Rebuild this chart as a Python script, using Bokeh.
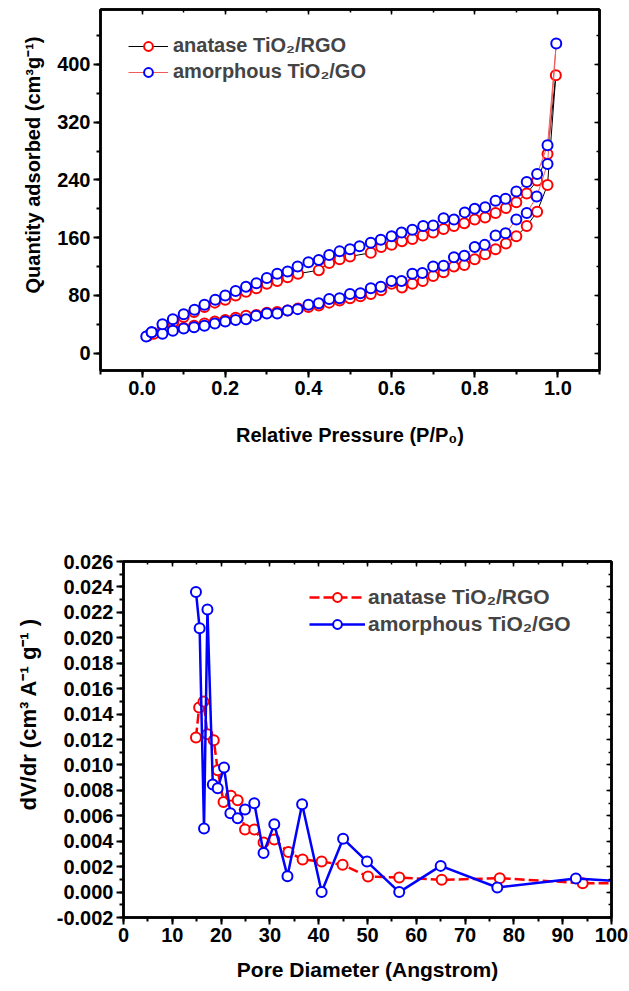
from bokeh.plotting import figure
from bokeh.models import (LinearAxis, SingleIntervalTicker, PrintfTickFormatter,
                          Range1d, Legend, LegendItem, Title)
from bokeh.embed import file_html
from bokeh.resources import INLINE

FONT = "Liberation Sans"

# ---------------- Top chart: N2 isotherms ----------------
# anatase TiO2/RGO (red markers, black line)
ana_ads_p = [0.014, 0.028, 0.05, 0.075, 0.1, 0.125, 0.15, 0.175, 0.2, 0.225, 0.25, 0.275,
             0.3, 0.325, 0.35, 0.375, 0.4, 0.425, 0.45, 0.475, 0.5, 0.525, 0.55, 0.575,
             0.6, 0.625, 0.65, 0.675, 0.7, 0.725, 0.75, 0.775, 0.8, 0.825, 0.85, 0.875,
             0.9, 0.925, 0.95, 0.975, 0.995]
ana_ads_q = [24, 28, 30, 33, 35, 38, 41, 44, 46, 49, 52, 53,
             56, 57, 59, 62, 64, 66, 70, 73, 76, 79, 82, 87,
             96, 91, 96, 100, 107, 112, 120, 122, 130, 137, 144, 152,
             162, 176, 196, 233, 385]
ana_des_p = [0.975, 0.95, 0.925, 0.9, 0.875, 0.85, 0.825, 0.8, 0.775, 0.75, 0.725, 0.7,
             0.675, 0.65, 0.625, 0.6, 0.575, 0.55, 0.5, 0.475, 0.45, 0.425,
             0.375, 0.35, 0.325, 0.3, 0.275, 0.25, 0.225, 0.2, 0.175, 0.15, 0.125, 0.1,
             0.075, 0.05, 0.028]
ana_des_q = [276, 239, 221, 209, 201, 194, 188, 185, 180, 176, 172, 167,
             163, 158, 155, 150, 147, 139, 134, 130, 125, 115,
             110, 105, 100, 96, 90, 85, 80, 74, 70, 64, 57, 50,
             43, 34, 27]
# amorphous TiO2/GO (blue markers, red line)
amo_ads_p = [0.01, 0.023, 0.049, 0.074, 0.1, 0.125, 0.15, 0.175, 0.2, 0.225, 0.25, 0.274,
             0.3, 0.325, 0.35, 0.374, 0.4, 0.425, 0.45, 0.475, 0.5, 0.525, 0.55, 0.574,
             0.6, 0.624, 0.65, 0.674, 0.7, 0.725, 0.75, 0.775, 0.8, 0.824, 0.85, 0.874,
             0.9, 0.925, 0.949, 0.975, 0.996]
amo_ads_q = [23, 29, 27, 31, 34, 36, 38, 41, 44, 46, 47, 52,
             55, 55, 59, 61, 67, 69, 75, 76, 82, 83, 90, 92,
             100, 100, 110, 111, 120, 121, 133, 135, 147, 150, 163, 166,
             185, 194, 217, 262, 429]
amo_des_p = [0.975, 0.95, 0.925, 0.9, 0.874, 0.85, 0.825, 0.8, 0.776, 0.75, 0.725, 0.7,
             0.676, 0.65, 0.624, 0.6, 0.574, 0.55, 0.523, 0.5, 0.475, 0.45, 0.425, 0.4,
             0.374, 0.35, 0.325, 0.3, 0.275, 0.25, 0.225, 0.2, 0.176, 0.15, 0.126, 0.1,
             0.074, 0.049, 0.023]
amo_des_q = [288, 248, 237, 224, 214, 211, 202, 200, 195, 185, 187, 177,
             176, 171, 167, 162, 157, 153, 148, 144, 141, 136, 129, 126,
             120, 113, 110, 104, 97, 92, 86, 80, 74, 67, 60, 54,
             47, 40, 29]

# ---------------- Bottom chart: pore size distribution ----------------
ana_d = [14.85, 15.5, 16.4, 17.2, 18.5, 19.3, 20.5, 22.0, 23.4, 24.9, 26.8, 28.7, 30.9,
         33.8, 36.7, 40.6, 44.9, 50.1, 56.5, 65.2, 77.1, 94.1, 112]
ana_v = [0.01215, 0.01451, 0.01498, 0.01242, 0.01195, 0.00959, 0.00709, 0.00757, 0.00723,
         0.00492, 0.00492, 0.00389, 0.00413, 0.00316, 0.00256, 0.0024, 0.00214, 0.00122,
         0.00114, 0.00096, 0.00109, 0.0007, 0.00066]
amo_d = [14.85, 15.6, 16.5, 17.2, 18.3, 19.3, 20.6, 21.9, 23.4, 24.9, 26.8, 28.7, 30.9,
         33.6, 36.6, 40.6, 45.0, 49.9, 56.5, 65.0, 76.6, 92.7, 112]
amo_v = [0.02361, 0.02075, 0.0050, 0.02222, 0.00846, 0.00817, 0.00979, 0.0062, 0.00581,
         0.00649, 0.00699, 0.00308, 0.00534, 0.00125, 0.00691, 0.0, 0.0042, 0.0024,
         0.0, 0.00206, 0.00036, 0.00107, 0.0006]

label_ana = "anatase TiO\u2082/RGO"
label_amo = "amorphous TiO\u2082/GO"


def style_main_axes(p, xticker, yticker, xfmt, yfmt, tick_font):
    xa = p.below[0]
    ya = p.left[0]
    xa.ticker = xticker
    ya.ticker = yticker
    xa.formatter = PrintfTickFormatter(format=xfmt)
    ya.formatter = PrintfTickFormatter(format=yfmt)
    for ax in (xa, ya):
        ax.axis_line_width = 2.5
        ax.axis_line_color = "black"
        ax.major_tick_line_width = 2
        ax.minor_tick_line_width = 2
        ax.major_tick_out = 7
        ax.major_tick_in = 0
        ax.minor_tick_out = 4
        ax.minor_tick_in = 0
        ax.major_label_text_font = FONT
        ax.major_label_text_font_style = "bold"
        ax.major_label_text_font_size = tick_font
        ax.major_label_text_color = "black"
        ax.major_label_standoff = 3
        ax.axis_label_text_font = FONT
        ax.axis_label_text_font_style = "bold"
        ax.axis_label_text_color = "black"
    for side, tk in (("above", xticker), ("right", yticker)):
        ax = LinearAxis(ticker=tk, axis_label=None, major_label_text_font_size="0px",
                        major_label_standoff=0, axis_label_standoff=0,
                        major_tick_in=5, major_tick_out=0, minor_tick_in=3, minor_tick_out=0,
                        axis_line_width=2.5, major_tick_line_width=1.5,
                        minor_tick_line_width=1.5, formatter=PrintfTickFormatter(format=" "))
        p.add_layout(ax, side)
    p.xgrid.visible = False
    p.ygrid.visible = False
    p.outline_line_color = "black"
    p.outline_line_width = 2.5
    return xa, ya


# ---------- figure 1 ----------
p1 = figure(width=629, height=470, x_range=Range1d(-0.1, 1.1), y_range=Range1d(-24, 476),
            output_backend="svg", toolbar_location=None,
            min_border_left=100, min_border_right=30, min_border_top=9, min_border_bottom=100)
xa1, ya1 = style_main_axes(p1, SingleIntervalTicker(interval=0.2, num_minor_ticks=2),
                           SingleIntervalTicker(interval=80, num_minor_ticks=2), "%.1f", "%d",
                           "20px")
xa1.axis_label = "Relative Pressure (P/P\u2080)"
xa1.axis_label_text_font_size = "20px"
xa1.axis_label_standoff = 26
p1.add_layout(Title(text="Quantity adsorbed (cm\u00b3g\u207b\u00b9)", align="left", offset=77,
                    vertical_align="bottom", standoff=22, text_font=FONT,
                    text_font_style="bold", text_font_size="20px", text_color="black"), "left")

r1l = p1.line(ana_ads_p + ana_des_p, ana_ads_q + ana_des_q, line_color="black", line_width=1)
r1m = p1.scatter(ana_ads_p + ana_des_p, ana_ads_q + ana_des_q, marker="circle", size=10,
                 line_color="#ff0000", line_width=2, fill_color="white")
r2l = p1.line(amo_ads_p + amo_des_p, amo_ads_q + amo_des_q, line_color="#f05a5a", line_width=1)
r2m = p1.scatter(amo_ads_p + amo_des_p, amo_ads_q + amo_des_q, marker="circle", size=10,
                 line_color="#0000ff", line_width=2, fill_color="white")
leg1 = Legend(items=[LegendItem(label=label_ana, renderers=[r1l, r1m]),
                     LegendItem(label=label_amo, renderers=[r2l, r2m])],
              location=(28, 287), border_line_color=None, background_fill_alpha=0,
              padding=0, margin=0, spacing=3, glyph_width=40, glyph_height=22,
              label_height=22, label_standoff=5, label_text_font=FONT,
              label_text_font_style="bold", label_text_font_size="20px")
p1.add_layout(leg1, "center")

# ---------- figure 2 ----------
p2 = figure(width=629, height=520, x_range=Range1d(0, 100), y_range=Range1d(-0.002, 0.026001),
            output_backend="svg", toolbar_location=None,
            min_border_left=122, min_border_right=18, min_border_top=91, min_border_bottom=73)
xa2, ya2 = style_main_axes(p2, SingleIntervalTicker(interval=10, num_minor_ticks=2),
                           SingleIntervalTicker(interval=0.002, num_minor_ticks=2), "%d", "%.3f",
                           "20px")
xa2.axis_label = "Pore Diameter (Angstrom)"
xa2.axis_label_text_font_size = "21px"
xa2.axis_label_standoff = 13
p2.add_layout(Title(text="dV/dr (cm\u00b3 A\u207b\u00b9 g\u207b\u00b9 )", align="left", offset=107,
                    vertical_align="bottom", standoff=26, text_font=FONT,
                    text_font_style="bold", text_font_size="22px", text_color="black"), "left")

s1l = p2.line(ana_d, ana_v, line_color="#ff0000", line_width=2.5, line_dash="10 4")
s1m = p2.scatter(ana_d, ana_v, marker="circle", size=10, line_color="#ff0000", line_width=2,
                 fill_color="white")
s2l = p2.line(amo_d, amo_v, line_color="#0000ff", line_width=2.5)
s2m = p2.scatter(amo_d, amo_v, marker="circle", size=10, line_color="#0000ff", line_width=2,
                 fill_color="white")
leg2 = Legend(items=[LegendItem(label=label_ana, renderers=[s1l, s1m]),
                     LegendItem(label=label_amo, renderers=[s2l, s2m])],
              location=(186, 281), border_line_color=None, background_fill_alpha=0,
              padding=0, margin=0, spacing=3, glyph_width=56, glyph_height=22,
              label_height=22, label_standoff=3, label_text_font=FONT,
              label_text_font_style="bold", label_text_font_size="21px")
p2.add_layout(leg2, "center")

open("out.html", "w").write(file_html([p1, p2], INLINE))
